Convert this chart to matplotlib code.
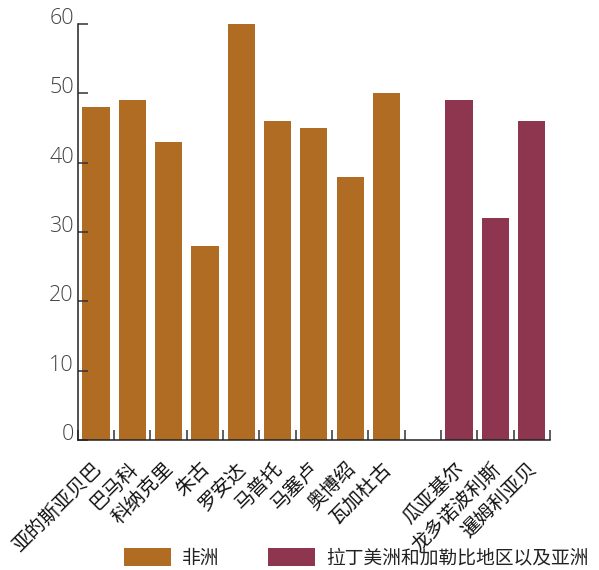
import matplotlib
matplotlib.use("Agg")
import matplotlib.pyplot as plt
from matplotlib.patches import Patch
from matplotlib import font_manager as fm
from matplotlib import transforms as mtrans

plt.rcParams['font.family'] = ['Noto Sans CJK SC', 'DejaVu Sans']

# Cities and values
africa_cities = ["亚的斯亚贝巴", "巴马科", "科纳克里", "朱古", "罗安达",
                 "马普托", "马塞卢", "奥博绍", "瓦加杜古"]
africa_values = [48, 49, 43, 28, 60, 46, 45, 38, 50]
latam_asia_cities = ["瓜亚基尔", "龙多诺波利斯", "暹姆利亚贝"]
latam_asia_values = [49, 32, 46]
legend_labels = ["非洲", "拉丁美洲和加勒比地区以及亚洲"]
y_ticks = [0, 10, 20, 30, 40, 50, 60]

col_africa = "#B06C22"
col_other = "#8E3550"

fig = plt.figure(figsize=(5.99, 5.70), dpi=100)
ax = fig.add_axes([0.130, 0.228, 0.788, 0.730])

n_af = len(africa_values)
pos_af = list(range(n_af))
pos_ot = [n_af + 1 + i for i in range(len(latam_asia_values))]

ax.bar(pos_af, africa_values, width=0.75, color=col_africa)
ax.bar(pos_ot, latam_asia_values, width=0.75, color=col_other)

n_slots = n_af + 1 + len(latam_asia_values)
ax.set_xlim(-0.5, n_slots - 0.5)
ax.set_ylim(0, 60)

for s in ["top", "right"]:
    ax.spines[s].set_visible(False)
ax.spines["left"].set_color("#222222")
ax.spines["bottom"].set_color("#222222")
ax.spines["left"].set_linewidth(1.1)
ax.spines["bottom"].set_linewidth(1.1)

# category labels at bar centres, tick marks at slot boundaries
labels = africa_cities + [""] + latam_asia_cities
ax.set_xticks(range(n_slots))
ax.set_xticklabels(labels, rotation=45, ha="right", rotation_mode="anchor",
                   fontsize=14, color="#111111")
ax.tick_params(axis="x", which="major", length=0, pad=10)
shift = mtrans.ScaledTranslation(-4 / 72, -3 / 72, fig.dpi_scale_trans)
for lbl in ax.get_xticklabels():
    lbl.set_transform(lbl.get_transform() + shift)
ax.set_xticks([i - 0.5 for i in range(n_slots + 1)], minor=True)
ax.tick_params(axis="x", which="minor", direction="in", length=7.5,
               width=1.1, color="#333333")

# light numerals for the value axis
num_font = fm.FontProperties(family="Open Sans", weight="light", size=15.5)
ax.set_yticks(y_ticks)
ax.set_yticklabels([str(v) for v in y_ticks], color="#444444",
                   va="baseline", fontproperties=num_font)
ax.tick_params(axis="y", direction="in", length=7.5, width=1.1,
               color="#333333", pad=3)

handles = [Patch(facecolor=col_africa, edgecolor="none"),
           Patch(facecolor=col_other, edgecolor="none")]
fig.legend(handles, legend_labels, loc="center left",
           bbox_to_anchor=(0.207, 0.021), ncol=2, frameon=False,
           fontsize=13.5, handlelength=2.5, handleheight=1.1,
           handletextpad=0.6, columnspacing=2.6, borderpad=0,
           borderaxespad=0, labelcolor="#222222")

fig.savefig("out.png", dpi=100)
